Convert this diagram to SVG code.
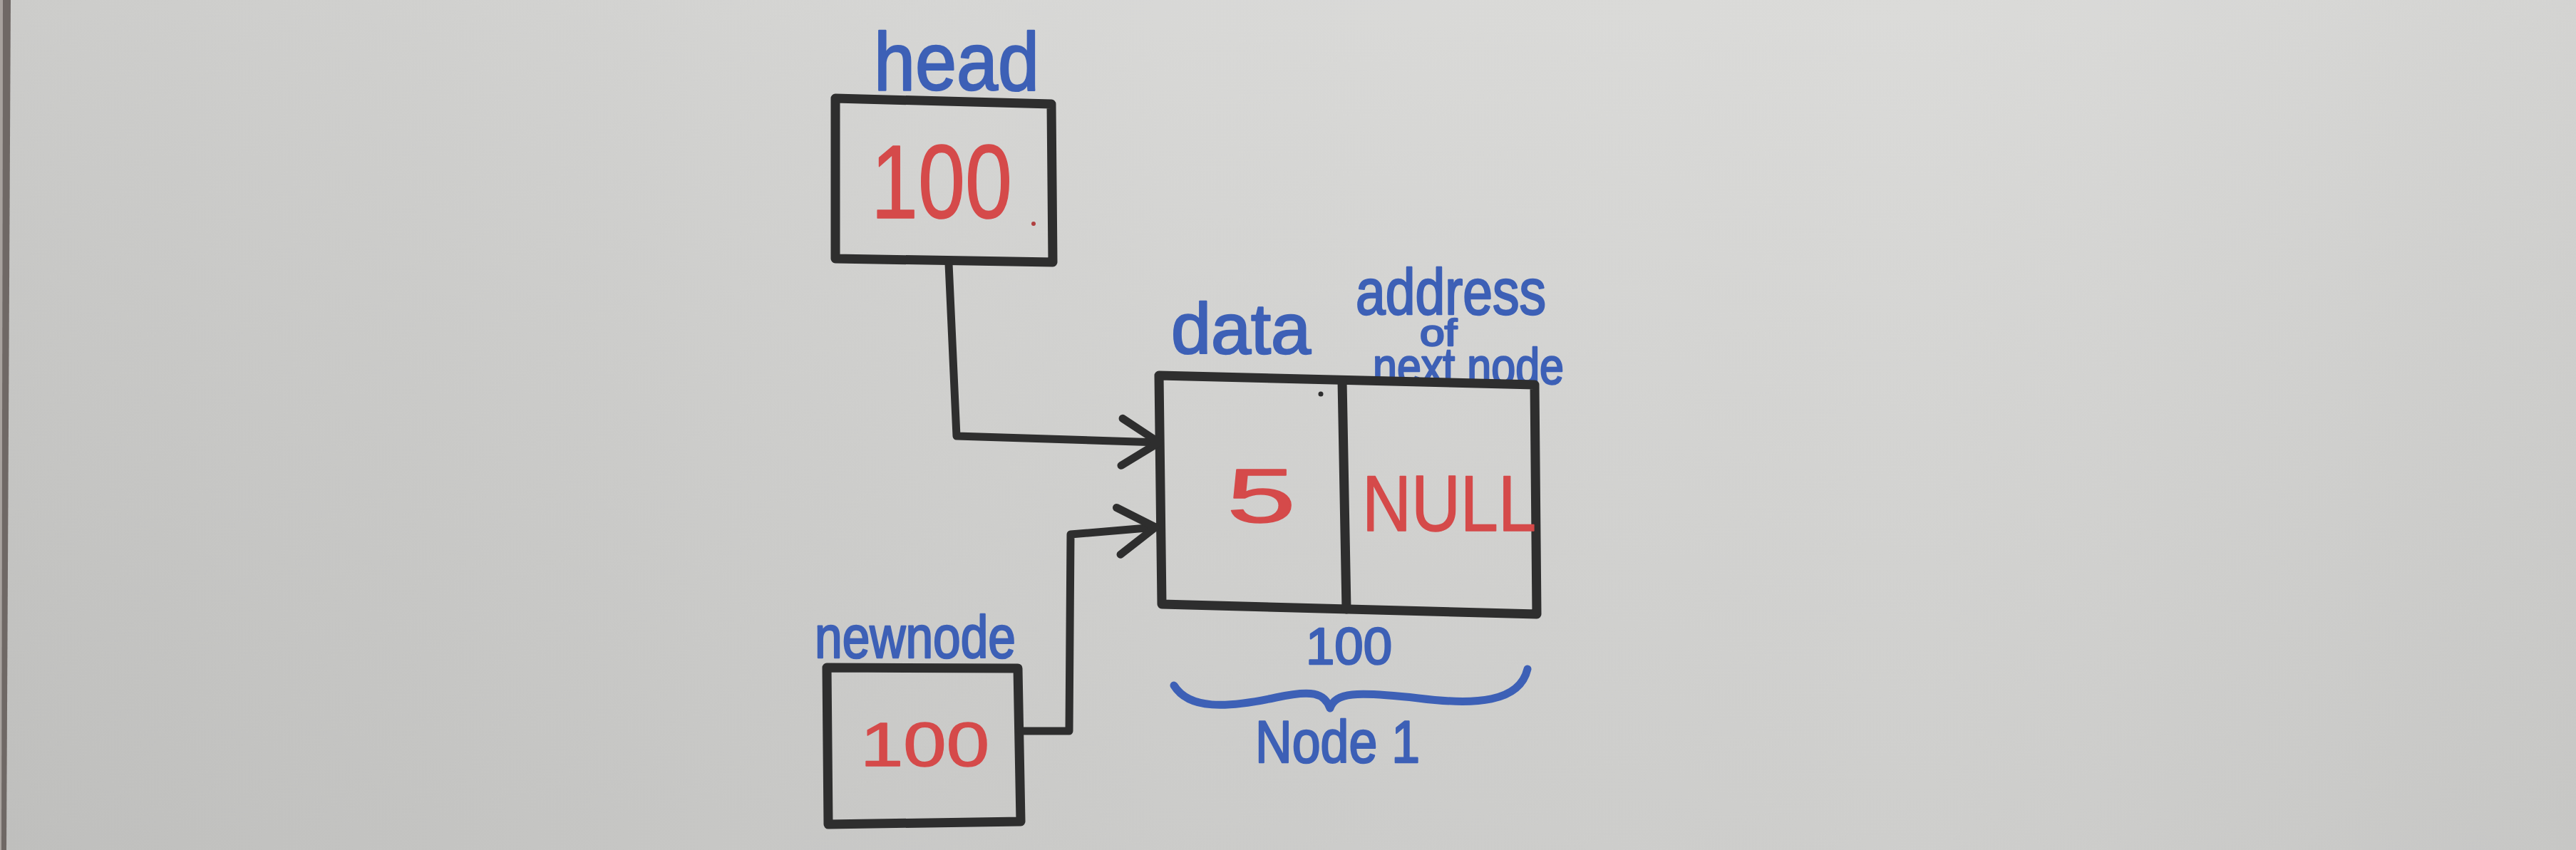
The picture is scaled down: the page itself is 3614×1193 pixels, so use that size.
<svg xmlns="http://www.w3.org/2000/svg" width="3614" height="1193" viewBox="0 0 3614 1193">
  <defs>
    <linearGradient id="bg" x1="0" y1="0" x2="1" y2="0">
      <stop offset="0" stop-color="#c9c9c7"/>
      <stop offset="0.45" stop-color="#d6d6d4"/>
      <stop offset="0.75" stop-color="#d9d9d7"/>
      <stop offset="1" stop-color="#d1d1cf"/>
    </linearGradient>
    <linearGradient id="shade" x1="0" y1="0" x2="0" y2="1">
      <stop offset="0" stop-color="#ffffff" stop-opacity="0.06"/>
      <stop offset="1" stop-color="#000000" stop-opacity="0.05"/>
    </linearGradient>
    <marker id="arrow" markerUnits="userSpaceOnUse" viewBox="-70 -45 80 90" markerWidth="80" markerHeight="90" refX="0" refY="0" orient="auto" overflow="visible">
      <path d="M-52,-32 L0,0 L-52,34" fill="none" stroke="#2e2e2e" stroke-width="11" stroke-linecap="round" stroke-linejoin="round"/>
    </marker>
  </defs>
  <style>
    .box { fill: none; stroke: #2e2e2e; stroke-width: 13; stroke-linecap: round; stroke-linejoin: round; }
    .wire { fill: none; stroke: #2e2e2e; stroke-width: 11; stroke-linecap: round; stroke-linejoin: round; }
    .brace { fill: none; stroke: #3d60b6; stroke-width: 11; stroke-linecap: round; stroke-linejoin: round; }
    .lbl { font-family: "Liberation Sans", Arial, sans-serif; fill: #3d60b6; stroke: #3d60b6; stroke-width: 2.5; stroke-linejoin: round; }
    .val { font-family: "Liberation Sans", Arial, sans-serif; fill: #d54a4a; stroke: #d54a4a; stroke-width: 1.5; stroke-linejoin: round; }
  </style>

  <rect x="0" y="0" width="3614" height="1193" fill="url(#bg)"/>
  <rect x="0" y="0" width="3614" height="1193" fill="url(#shade)"/>
  <path d="M0,0 L4,0 L2,1193 L0,1193 Z" fill="#a8a29e"/>
  <path d="M4,0 L15,0 L9,1193 L2,1193 Z" fill="#6f6865"/>

  <g id="head">
    <text class="lbl" x="1226" y="126" font-size="115" textLength="232" lengthAdjust="spacingAndGlyphs">head</text>
    <path class="box" d="M1172,138 L1475,146 L1477,368 L1172,363 Z"/>
    <text class="val" x="1222" y="306" font-size="146" textLength="198" lengthAdjust="spacingAndGlyphs">100</text>
    <circle cx="1450" cy="314" r="3" fill="#b04040"/>
  </g>

  <g id="node1">
    <text class="lbl" x="1643" y="496" font-size="100" textLength="196" lengthAdjust="spacingAndGlyphs">data</text>
    <text class="lbl" x="1902" y="441" font-size="90" textLength="267" lengthAdjust="spacingAndGlyphs">address</text>
    <text class="lbl" x="1992" y="485" font-size="52" textLength="52" lengthAdjust="spacingAndGlyphs">of</text>
    <text class="lbl" x="1926" y="539" font-size="72" textLength="268" lengthAdjust="spacingAndGlyphs">next node</text>
    <path class="box" d="M1626,527 L2153,540 L2156,862 L1630,848 Z"/>
    <path class="box" d="M1883,534 L1889,855"/>
    <circle cx="1853" cy="553" r="3.5" fill="#2e2e2e"/>
    <text class="val" x="1721" y="733" font-size="107" textLength="97" lengthAdjust="spacingAndGlyphs">5</text>
    <text class="val" x="1911" y="745" font-size="112" textLength="244" lengthAdjust="spacingAndGlyphs">NULL</text>
    <text class="lbl" x="1832" y="932" font-size="73" textLength="121" lengthAdjust="spacingAndGlyphs">100</text>
    <path class="brace" d="M1647,962 C1668,996 1720,994 1790,979 C1840,968 1858,972 1866,994 C1874,972 1900,970 1990,980 C2070,990 2132,986 2143,939"/>
    <text class="lbl" x="1761" y="1070" font-size="84" textLength="231" lengthAdjust="spacingAndGlyphs">Node 1</text>
  </g>

  <g id="newnode">
    <text class="lbl" x="1143" y="923" font-size="84" textLength="282" lengthAdjust="spacingAndGlyphs">newnode</text>
    <path class="box" d="M1160,937 L1428,938 L1432,1153 L1162,1157 Z"/>
    <text class="val" x="1207" y="1075" font-size="88" textLength="181" lengthAdjust="spacingAndGlyphs">100</text>
  </g>

  <g id="connectors">
    <path class="wire" d="M1331,370 L1336,480 L1342,612 L1626,621" marker-end="url(#arrow)"/>
    <path class="wire" d="M1432,1026 L1500,1026 L1502,750 L1621,740" marker-end="url(#arrow)"/>
  </g>
</svg>
